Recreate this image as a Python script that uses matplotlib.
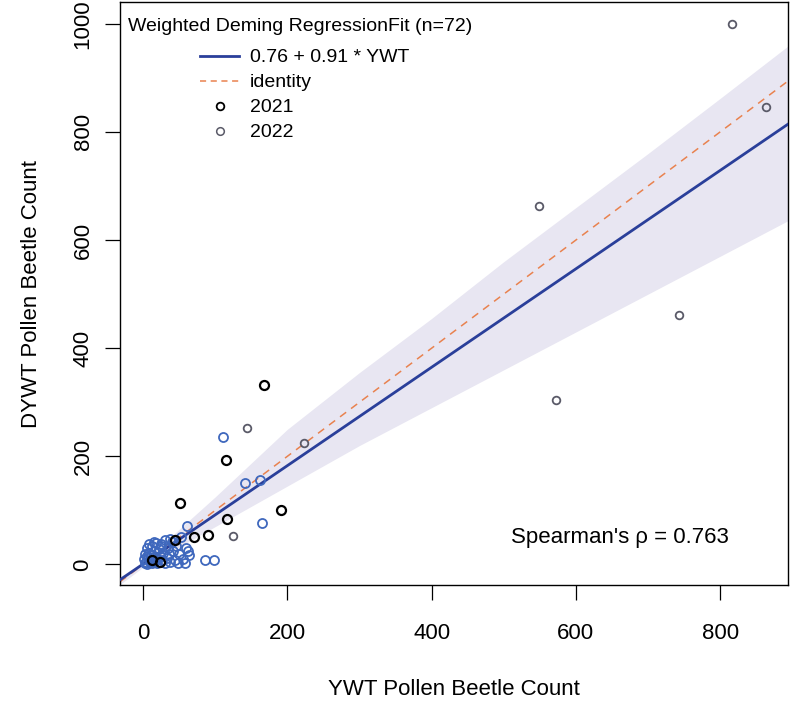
import numpy as np
import matplotlib.pyplot as plt
from matplotlib.lines import Line2D

plt.rcParams['font.family'] = ['Liberation Sans', 'DejaVu Sans']

# 2021 counts (black circles)
ywt_2021 = [167, 115, 51, 116, 191, 90, 70, 44, 23, 12]
dywt_2021 = [332, 193, 114, 85, 100, 54, 51, 46, 5, 8]

# 2022 counts (blue circles, small counts)
ywt_2022 = [111, 141, 162, 165, 61, 62, 86, 99,
            1, 2, 3, 4, 5, 5, 6, 7, 8, 9, 10, 11, 12, 13, 14, 15, 16, 18,
            19, 20, 22, 23, 25, 26, 28, 30, 31, 33, 35, 36, 38, 40, 42, 44,
            46, 48, 50, 52, 55, 58, 60, 63, 37, 25, 15, 8]
dywt_2022 = [235, 150, 157, 76, 72, 24, 8, 8,
             10, 2, 20, 5, 15, 30, 1, 12, 22, 4, 8, 18, 35, 3, 14, 25, 6, 40,
             10, 2, 28, 16, 38, 8, 22, 3, 45, 12, 30, 20, 5, 42, 25, 9,
             35, 3, 20, 50, 10, 2, 30, 18, 48, 35, 42, 38]

# 2022 counts drawn in grey
ywt_2022g = [144, 223, 125, 549, 573, 743, 817, 864]
dywt_2022g = [252, 225, 53, 663, 304, 461, 1000, 846]

# Deming fit and its confidence band
fit_a, fit_b = 0.76, 0.91
band_x = [-40, 0, 100, 200, 300, 400, 500, 600, 700, 800, 900]
band_lo = [-45, -5, 70, 145, 220, 290, 360, 430, 500, 570, 640]
band_hi = [-30, 5, 125, 250, 355, 455, 560, 660, 760, 862, 965]

rho = 0.763
n_pairs = 72

fig = plt.figure(figsize=(7.93, 7.04), dpi=100)
ax = fig.add_axes([0.1513, 0.169, 0.8424, 0.828])
xlim = (-32, 894)
ylim = (-38, 1040)

ax.fill_between(band_x, band_lo, band_hi, color='#e8e6f2', lw=0, zorder=1)

xs = np.array(xlim)
ax.plot(xs, xs, color='#e9824f', lw=1.1, dashes=(5, 4), zorder=2)
ax.plot(xs, fit_a + fit_b * xs, color='#2a3f9a', lw=2.0, zorder=3)

ax.plot(ywt_2022, dywt_2022, 'o', mfc='none', mec='#3f68bd', mew=1.3, ms=6.5, zorder=4)
ax.plot(ywt_2022g, dywt_2022g, 'o', mfc='none', mec='#5a5a68', mew=1.3, ms=5.5, zorder=4)
ax.plot(ywt_2021, dywt_2021, 'o', mfc='none', mec='black', mew=1.6, ms=6.5, zorder=5)

ax.set_xlim(xlim)
ax.set_ylim(ylim)
ax.set_xticks([0, 200, 400, 600, 800])
ax.set_yticks([0, 200, 400, 600, 800, 1000])
ax.tick_params(labelsize=16, length=11, width=0.9)
ax.tick_params(axis='x', pad=16)
ax.tick_params(axis='y', pad=8)
for lab in ax.get_yticklabels():
    lab.set_rotation(90)
    lab.set_va('center')
for sp in ax.spines.values():
    sp.set_linewidth(1.0)

ax.set_xlabel('YWT Pollen Beetle Count', fontsize=16)
ax.set_ylabel('DYWT Pollen Beetle Count', fontsize=16)
ax.xaxis.label.set_va('center')
ax.yaxis.label.set_va('center')
ax.xaxis.set_label_coords(0.5, -0.18)
ax.yaxis.set_label_coords(-0.132, 0.5)

ax.text(0.012, 0.958, 'Weighted Deming RegressionFit (n=%d)' % n_pairs,
        transform=ax.transAxes, fontsize=14, ha='left', va='center')

handles = [
    Line2D([], [], color='#2a3f9a', lw=2.0),
    Line2D([], [], color='#e9824f', lw=1.1, dashes=(4, 3)),
    Line2D([], [], ls='none', marker='o', mfc='none', mec='black', mew=1.3, ms=5.5),
    Line2D([], [], ls='none', marker='o', mfc='none', mec='#5a5a68', mew=1.1, ms=5.5),
]
labels = ['%.2f + %.2f * YWT' % (fit_a, fit_b), 'identity', '2021', '2022']
ax.legend(handles, labels, loc='upper left', bbox_to_anchor=(0.12, 0.92),
          frameon=False, fontsize=14, handlelength=2.0, handletextpad=0.55,
          labelspacing=0.38, borderpad=0, borderaxespad=0)

ax.text(0.585, 0.081, "Spearman's \u03c1 = %.3f" % rho, transform=ax.transAxes,
        fontsize=16, ha='left', va='center')

fig.savefig('out.png', dpi=100)
